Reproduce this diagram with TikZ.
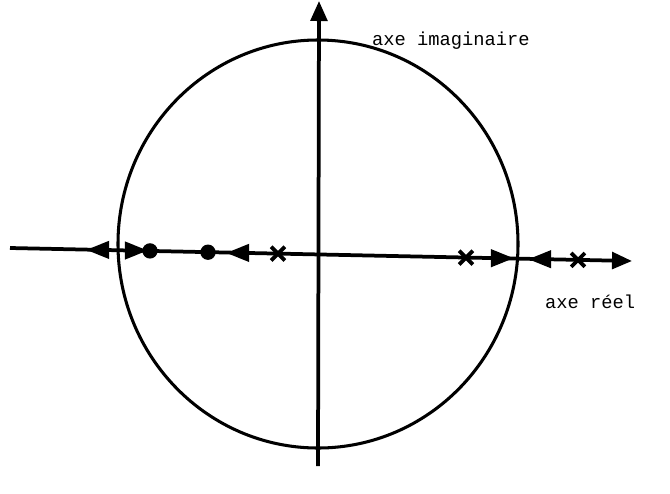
\documentclass[tikz,border=0pt]{standalone}
\usepackage{fontspec}
\setmonofont{Liberation Mono}
\usetikzlibrary{arrows.meta,positioning,shapes.geometric,shapes.misc}

\begin{document}
\begin{tikzpicture}[x=0.03cm, y=-0.03cm, >=Stealth,
  axis/.style={line width=3.2pt, -{Triangle[length=0.6cm,width=0.5cm]}},
  pole/.style={cross out, draw, line width=3.2pt, minimum size=0.3cm, inner sep=0pt},
  zero/.style={circle, fill, minimum size=0.46cm, inner sep=0pt},
  branch/.style={isosceles triangle, isosceles triangle stretches, fill, inner sep=0pt,
    minimum width=0.55cm, minimum height=0.68cm},
  toleft/.style={branch, shape border rotate=180},
  toright/.style={branch, shape border rotate=0},
  lbl/.style={font=\ttfamily\fontsize{16}{19}\selectfont, inner sep=0pt}]
\useasboundingbox (0,0) rectangle (670,493);
\draw[line width=2.6pt] (318,244) ellipse [x radius=6cm, y radius=6.12cm];

\coordinate (west) at (10,248);
\coordinate (east) at (632,261);
\coordinate (south) at (318,466);
\coordinate (north) at (319,1);
\draw[axis] (west) -- (east);
\draw[axis] (south) -- (north);

% points on the real axis
\node[toleft] (b1) at (103,249.9) {};
\node[toright] (b2) at (131,250.5) {};
\node[zero] (z1) at (150,250.9) {};
\node[zero] (z2) at (208,252.2) {};
\node[toleft] (b3) at (243,252.9) {};
\node[pole] (p1) at (278,253.6) {};
\node[pole] (p2) at (466,257.6) {};
\node[toright] (b4) at (497,258.2) {};
\node[toleft] (b5) at (545,259.2) {};
\node[pole] (p3) at (578,259.9) {};

\node[lbl, anchor=base west] (im) at (372,45) {axe imaginaire};
\node[lbl, anchor=base west] (re) at (545,308) {axe réel};
\end{tikzpicture}
\end{document}
